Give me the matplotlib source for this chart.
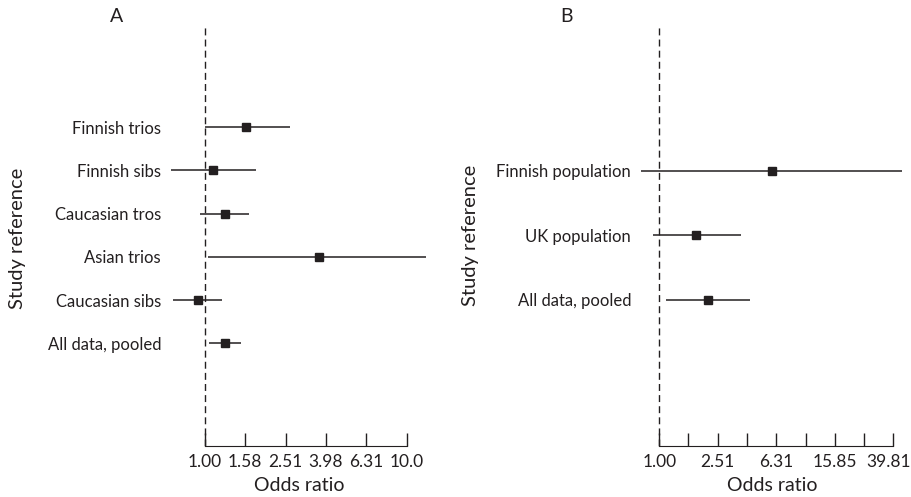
import numpy as np
import matplotlib.pyplot as plt
import matplotlib.transforms as mtransforms

# Panel A data (odds ratio with 95% CI)
studies_a = ["Finnish trios", "Finnish sibs", "Caucasian tros", "Asian trios",
             "Caucasian sibs", "All data, pooled"]
or_a = [1.60, 1.09, 1.25, 3.69, 0.92, 1.25]
lo_a = [1.00, 0.68, 0.94, 1.03, 0.69, 1.05]
hi_a = [2.65, 1.79, 1.66, 12.45, 1.21, 1.51]

# Panel B data
studies_b = ["Finnish population", "UK population", "All data, pooled"]
or_b = [5.87, 1.79, 2.16]
lo_b = [0.75, 0.90, 1.11]
hi_b = [45.9, 3.62, 4.19]

ticks_a = [1.00, 1.58, 2.51, 3.98, 6.31, 10.0]
ticklabels_a = ["1.00", "1.58", "2.51", "3.98", "6.31", "10.0"]
ticks_b = [1.00, 1.58, 2.51, 3.98, 6.31, 10.0, 15.85, 25.12, 39.81]
ticklabels_b = ["1.00", "", "2.51", "", "6.31", "", "15.85", "", "39.81"]

INK = "#231f20"
FONT = "Lato"

W, H = 912, 497
fig = plt.figure(figsize=(W / 100, H / 100), dpi=100)
plt.rcParams["font.family"] = FONT


def px_rect(x0, x1, y0, y1):
    return [x0 / W, 1 - y1 / H, (x1 - x0) / W, (y1 - y0) / H]


def forest(ax, names, est, lo, hi, ticks, labels, xlim, ylim):
    n = len(names)
    ypos = np.arange(n, 0, -1)
    ax.set_xscale("log")
    ax.hlines(ypos, lo, hi, color=INK, lw=1.1)
    ax.plot(est, ypos, "s", color=INK, ms=6.3, zorder=3)
    ax.axvline(1.0, color=INK, lw=1.0, ls=(0, (5, 3)))
    ax.set_xlim(*xlim)
    ax.set_ylim(*ylim)
    ax.set_yticks(ypos)
    ax.set_yticklabels(names, fontsize=12, color=INK)
    ax.tick_params(axis="y", length=0, pad=5)
    ax.set_xticks(ticks)
    ax.set_xticklabels(labels, fontsize=12.5, color=INK)
    ax.minorticks_off()
    ax.tick_params(axis="x", direction="in", length=9.5, width=1, color=INK, pad=6)
    for s in ["top", "right", "left"]:
        ax.spines[s].set_visible(False)
    ax.spines["bottom"].set_bounds(ticks[0], ticks[-1])
    ax.spines["bottom"].set_color(INK)
    ax.set_xlabel("Odds ratio", fontsize=14, color=INK, labelpad=5)
    ax.patch.set_visible(False)


ax_a = fig.add_axes(px_rect(168, 430, 26, 446))
forest(ax_a, studies_a, or_a, lo_a, hi_a, ticks_a, ticklabels_a,
       (0.655, 13.08), (1 - 2.37, 6 + 2.34))

ax_b = fig.add_axes(px_rect(638, 906, 26, 446))
forest(ax_b, studies_b, or_b, lo_b, hi_b, ticks_b, ticklabels_b,
       (0.715, 48.6), (1 - 2.27, 3 + 2.25))

# nudge the last label of panel B so it stays inside the figure
last = ax_b.get_xticklabels()[-1]
last.set_transform(last.get_transform() +
                   mtransforms.ScaledTranslation(-5 / 100, 0, fig.dpi_scale_trans))

fig.text(18 / W, 1 - 238 / H, "Study reference", rotation=90, fontsize=14.5,
         color=INK, ha="center", va="center")
fig.text(471 / W, 1 - 235 / H, "Study reference", rotation=90, fontsize=14.5,
         color=INK, ha="center", va="center")
fig.text(117 / W, 1 - 17 / H, "A", fontsize=14, color=INK, ha="center", va="center")
fig.text(567 / W, 1 - 17 / H, "B", fontsize=14, color=INK, ha="center", va="center")

fig.savefig("out.png", dpi=100)
